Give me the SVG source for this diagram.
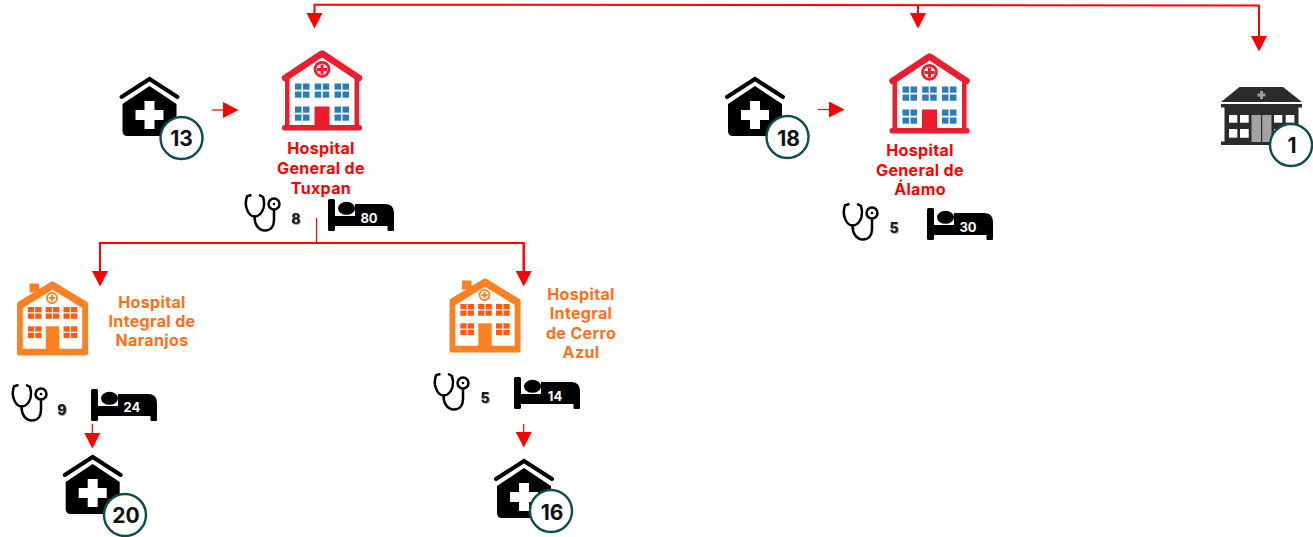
<svg xmlns="http://www.w3.org/2000/svg" xmlns:xlink="http://www.w3.org/1999/xlink" width="1313" height="537" viewBox="0 0 1313 537">
<style>
text{font-family:"Inter","Liberation Sans",sans-serif;font-weight:700;text-anchor:middle}
.red{fill:#ff0000;font-size:16px;font-weight:700;letter-spacing:.35px}
.org{fill:#ff6f1a;font-size:16px;font-weight:700;letter-spacing:.35px}
.badge{fill:#fff;stroke:#0f4c4c;stroke-width:2.4}
.bn{fill:#111;font-size:21px;font-weight:700}
.cnt{fill:#1a1a1a;font-size:14px;font-weight:800;filter:url(#sh)}
.bl{fill:#fff;font-size:13px;font-weight:700}
.c{fill:none;stroke:#ff0000;stroke-width:2}
.t{fill:none;stroke:#ff0000;stroke-width:1.2}
.blue{fill:#2a7db5}.or{fill:#ff5a14}
</style>
<defs>
<filter id="sh" x="-30%" y="-30%" width="160%" height="160%"><feDropShadow dx="0.6" dy="0.6" stdDeviation="0.7" flood-color="#666"/></filter>
<marker id="ah" markerUnits="userSpaceOnUse" markerWidth="16" markerHeight="16" refX="0" refY="8" orient="auto" viewBox="0 0 16 16"><path d="M0,0L15.500,8L0,16z" fill="#ff0000"/></marker>
<g id="clinic">
<polyline points="-28,20 0,2 28,20" fill="none" stroke="#000" stroke-width="4" stroke-linejoin="miter" stroke-linecap="round"/>
<path d="M-27,27L0,9L27,27V54Q27,59 22,59H-22Q-27,59 -27,54Z" fill="#000"/>
<path d="M-5,24H5V33H14V43H5V52H-5V43H-14V33H-5Z" fill="#fff"/>
</g>
<g id="wb"><rect width="6.500" height="6.200"/><rect width="6.500" height="6.200" x="8"/><rect width="6.500" height="6.200" y="8"/><rect width="6.500" height="6.200" x="8" y="8"/></g>
<g id="wo"><rect width="6.300" height="5.300"/><rect width="6.300" height="5.300" x="7.400"/><rect width="6.300" height="5.300" y="6.500"/><rect width="6.300" height="5.300" x="7.400" y="6.500"/></g>
<g id="hred">
<path d="M-36,28L0,3.500L36,28V76H-36Z" fill="#fff"/>
<path d="M-37,28L0,3.500L37,28" fill="none" stroke="#ed1c2e" stroke-width="6.500" stroke-linecap="round" stroke-linejoin="round"/>
<rect x="-37" y="28" width="4.500" height="48" fill="#ed1c2e"/><rect x="32.500" y="28" width="4.500" height="48" fill="#ed1c2e"/>
<rect x="-40" y="75" width="80" height="5.500" rx="2.500" fill="#ed1c2e"/>
<circle cx="0" cy="19.300" r="7" fill="#fff" stroke="#ed1c2e" stroke-width="2.800"/>
<path d="M-1.500,14.500H1.500V18H5V21H1.500V24.500H-1.500V21H-5V18H-1.500Z" fill="#ed1c2e"/>
<g class="blue"><use xlink:href="#wb" href="#wb" x="-27" y="33.500"/><use xlink:href="#wb" href="#wb" x="-7.300" y="33.500"/><use xlink:href="#wb" href="#wb" x="12.500" y="33.500"/><use xlink:href="#wb" href="#wb" x="-27" y="56.500"/><use xlink:href="#wb" href="#wb" x="12.500" y="56.500"/></g>
<rect x="-7.500" y="56.500" width="15" height="20" fill="#ed1c2e"/>
</g>
<g id="horg">
<rect x="-23" y="1.500" width="9.500" height="9" fill="#fb8122"/>
<path d="M-33,22L0,2L33,22V71H-33Z" fill="#fb8122" stroke="#fb8122" stroke-width="5" stroke-linejoin="round"/>
<path d="M-29.700,26L0,7.700L29.700,26V66.700H-29.700Z" fill="#fff"/>
<circle cx="-0.500" cy="16" r="5" fill="#fff" stroke="#fb8122" stroke-width="1.800"/>
<path d="M-1.500,13H0.500V15H2.500V17H0.500V19H-1.500V17H-3.500V15H-1.500Z" fill="#fb8122"/>
<g class="or"><use xlink:href="#wo" href="#wo" x="-24.700" y="25"/><use xlink:href="#wo" href="#wo" x="-6.900" y="25"/><use xlink:href="#wo" href="#wo" x="11" y="25"/><use xlink:href="#wo" href="#wo" x="-24.700" y="44.300"/><use xlink:href="#wo" href="#wo" x="11" y="44.300"/></g>
<rect x="-6.700" y="44.300" width="13.400" height="23" fill="#fb8122"/>
</g>
<g id="steth" fill="none" stroke="#000" stroke-width="2.500" stroke-linecap="round">
<path d="M5.500,1.300L2,2.300C0.500,7 0.500,11 1.500,14C3,19 6,22.500 9.500,22.500C14,22.500 17,19 18.500,14C19.500,10 19,6 18,3L15,1.300"/>
<path d="M9.500,22.500C9.500,30 13,36.500 20,36.500C26,36.500 29,32 29,26V16"/>
<circle cx="29" cy="10" r="5.500"/><circle cx="29" cy="10" r="1.300" fill="#000" stroke="none"/>
</g>
<g id="bed" fill="#000">
<rect x="0" y="0" width="7" height="32" rx="1.500"/>
<ellipse cx="18.500" cy="9.300" rx="8.500" ry="6.500"/>
<path d="M7,17H27V5H57Q66,5 66,14V31Q66,32 65,32H60.500Q59.500,32 59.500,31V27H7Z"/>
</g>
</defs>
<g id="connectors">
<path class="c" d="M1259,36V5.500L314.500,4.700V13" marker-end="url(#ah)"/>
<path class="c" d="M1259,5.500V36" marker-end="url(#ah)"/>
<path class="c" d="M918,5V13" marker-end="url(#ah)"/>
<path class="c" d="M523.700,271V243H100V271" marker-end="url(#ah)"/>
<path class="c" d="M523.700,243V271" marker-end="url(#ah)"/>
<path class="t" d="M316.500,218V243"/>
<path class="t" d="M212,110H223" marker-end="url(#ah)"/>
<path class="t" d="M818,109.500H829" marker-end="url(#ah)"/>
<path class="t" d="M92.300,424V433" marker-end="url(#ah)"/>
<path class="t" d="M523.700,424V432" marker-end="url(#ah)"/>
</g>
<g id="clinics-13"><use xlink:href="#clinic" href="#clinic" x="149.500" y="77"/><circle class="badge" cx="181.500" cy="138" r="21"/><text class="bn" x="181.500" y="146">13</text></g>
<g id="clinics-18"><use xlink:href="#clinic" href="#clinic" x="755" y="77"/><circle class="badge" cx="787.500" cy="137" r="21"/><text class="bn" x="788.500" y="146">18</text></g>
<g id="clinics-20"><use xlink:href="#clinic" href="#clinic" x="92.700" y="455"/><circle class="badge" cx="125" cy="515" r="21"/><text class="bn" x="126" y="523">20</text></g>
<g id="clinics-16"><use xlink:href="#clinic" href="#clinic" x="524" y="459"/><circle class="badge" cx="551" cy="511" r="21"/><text class="bn" x="552" y="520">16</text></g>
<g id="hospital-tuxpan">
<use xlink:href="#hred" href="#hred" x="322" y="50"/>
<text class="red" x="321" y="154">Hospital</text><text class="red" x="321" y="174">General de</text><text class="red" x="321" y="194">Tuxpan</text>
<use xlink:href="#steth" href="#steth" x="245" y="194"/><text class="cnt" x="296" y="224">8</text>
<use xlink:href="#bed" href="#bed" x="328" y="199"/><text class="bl" x="369" y="223">80</text>
</g>
<g id="hospital-alamo">
<use xlink:href="#hred" href="#hred" x="929.500" y="53"/>
<text class="red" x="920" y="156">Hospital</text><text class="red" x="920" y="176">General de</text><text class="red" x="920" y="195">Álamo</text>
<use xlink:href="#steth" href="#steth" x="843" y="203"/><text class="cnt" x="894" y="233">5</text>
<use xlink:href="#bed" href="#bed" x="927" y="208"/><text class="bl" x="968" y="232">30</text>
</g>
<g id="hospital-naranjos">
<use xlink:href="#horg" href="#horg" x="52.500" y="282"/>
<text class="org" x="152" y="307.500">Hospital</text><text class="org" x="152" y="326.500">Integral de</text><text class="org" x="152" y="346">Naranjos</text>
<use xlink:href="#steth" href="#steth" x="12" y="384"/><text class="cnt" x="62" y="415">9</text>
<use xlink:href="#bed" href="#bed" x="91" y="389"/><text class="bl" x="132" y="412">24</text>
</g>
<g id="hospital-cerro-azul">
<use xlink:href="#horg" href="#horg" x="485" y="279"/>
<text class="org" x="581" y="300">Hospital</text><text class="org" x="581" y="319">Integral</text><text class="org" x="581" y="339">de Cerro</text><text class="org" x="581" y="358">Azul</text>
<use xlink:href="#steth" href="#steth" x="434" y="373"/><text class="cnt" x="485" y="403">5</text>
<use xlink:href="#bed" href="#bed" x="514" y="377"/><text class="bl" x="555" y="401">14</text>
</g>
<g id="building-1">
<path d="M1239.500,87H1283L1302,102H1221Z" fill="#2b2b2b"/>
<rect x="1221" y="104" width="81" height="3.500" fill="#2b2b2b"/>
<rect x="1224.500" y="107" width="74" height="36" fill="#2b2b2b"/>
<rect x="1221" y="141.500" width="81" height="3.500" fill="#2b2b2b"/>
<path d="M1260,91H1263V93.500H1265.500V96.500H1263V99H1260V96.500H1257.500V93.500H1260Z" fill="#9a9a9a"/>
<g fill="#fff"><rect x="1229" y="115" width="8.300" height="7.700"/><rect x="1240" y="115" width="8.700" height="7.700"/><rect x="1274" y="115" width="8.300" height="7.700"/><rect x="1285.700" y="115" width="8.700" height="7.700"/><rect x="1229" y="129" width="8.300" height="8.700"/><rect x="1240" y="129" width="8.700" height="8.700"/><rect x="1274" y="129" width="8.300" height="8.700"/></g>
<rect x="1251.500" y="115" width="20" height="27" fill="#a3a3a3"/><rect x="1261" y="115" width="1.200" height="27" fill="#2b2b2b"/>
<circle class="badge" cx="1291" cy="145" r="21"/><text class="bn" x="1292" y="153">1</text>
</g>
</svg>
